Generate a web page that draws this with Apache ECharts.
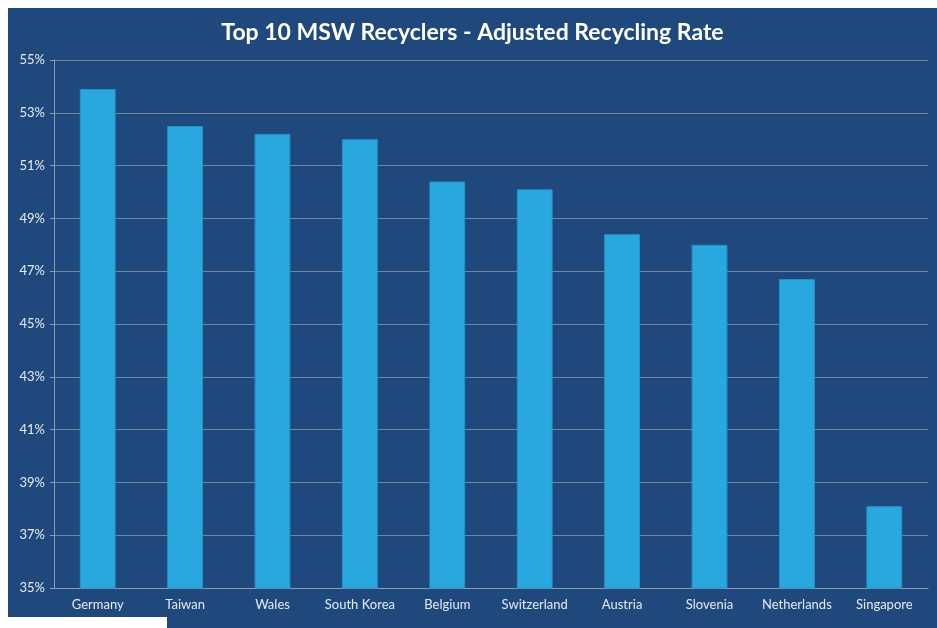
<!DOCTYPE html>
<html>
<head>
<meta charset="utf-8">
<script src="https://cdn.jsdelivr.net/npm/echarts@6/dist/echarts.min.js"></script>
<style>
html, body { margin: 0; padding: 0; background: #fff; }
#chart { position: absolute; left: 8px; top: 8px; width: 929px; height: 620px; }
</style>
</head>
<body>
<div id="chart"></div>
<script>
var countries = ['Germany', 'Taiwan', 'Wales', 'South Korea', 'Belgium', 'Switzerland', 'Austria', 'Slovenia', 'Netherlands', 'Singapore'];
var rates = [53.9, 52.5, 52.2, 52.0, 50.4, 50.1, 48.4, 48.0, 46.7, 38.1];

var chart = echarts.init(document.getElementById('chart'));
var option = {
    backgroundColor: '#1F497D',
    title: {
        text: 'Top 10 MSW Recyclers - Adjusted Recycling Rate',
        left: 'center',
        top: 8,
        textStyle: { color: '#fff', fontFamily: 'Lato', fontWeight: 'bold', fontSize: 23 }
    },
    grid: { left: 46, right: 9, top: 52, bottom: 40 },
    xAxis: {
        type: 'category',
        data: countries,
        axisLine: { lineStyle: { color: '#8A9AB0' } },
        axisTick: { length: 4, lineStyle: { color: '#8A9AB0' } },
        axisLabel: { color: '#E6EAF0', fontFamily: 'Lato', fontSize: 13, margin: 10, interval: 0 }
    },
    yAxis: {
        type: 'value',
        min: 35, max: 55, interval: 2,
        axisLine: { show: true, lineStyle: { color: '#8A9AB0' } },
        axisTick: { show: true, length: 4, lineStyle: { color: '#8A9AB0' } },
        splitLine: { lineStyle: { color: '#74869E' } },
        axisLabel: { color: '#E6EAF0', fontFamily: 'Lato', fontSize: 13, margin: 9, formatter: '{value}%' }
    },
    series: [{
        type: 'bar',
        data: rates,
        barWidth: '41%',
        itemStyle: { color: '#29A8E0', borderColor: '#2690C8', borderWidth: 1 }
    }],
    graphic: [{
        type: 'rect',
        left: 0, bottom: 0,
        shape: { width: 159, height: 11 },
        style: { fill: '#fff' }
    }]
};
chart.setOption(option);
</script>
</body>
</html>
